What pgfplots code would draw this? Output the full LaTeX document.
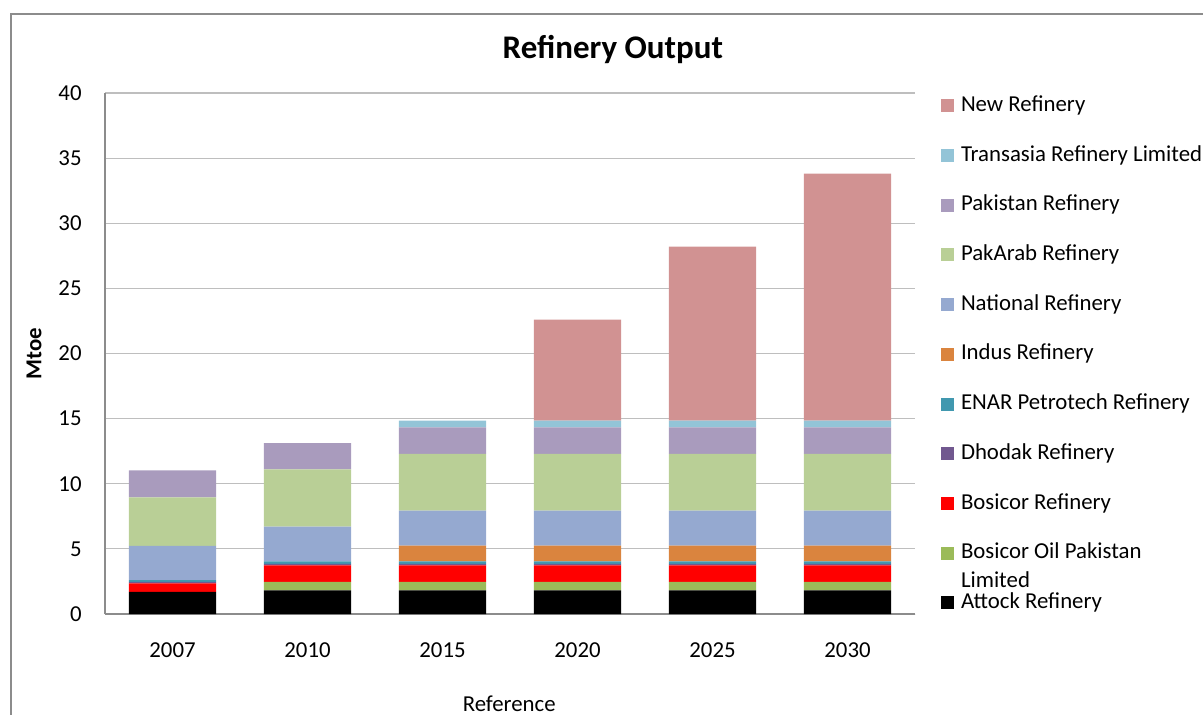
\documentclass[border=0pt]{standalone}
\usepackage{fontspec}
\setmainfont{Carlito}
\usepackage{pgfplots}
\pgfplotsset{compat=1.18}

\definecolor{cNew}{RGB}{209,146,146}
\definecolor{cTrans}{RGB}{147,196,215}
\definecolor{cPak}{RGB}{169,155,189}
\definecolor{cPakArab}{RGB}{185,207,150}
\definecolor{cNat}{RGB}{149,169,208}
\definecolor{cIndus}{RGB}{218,132,62}
\definecolor{cEnar}{RGB}{65,152,175}
\definecolor{cDhodak}{RGB}{113,88,143}
\definecolor{cBosicor}{RGB}{255,0,0}
\definecolor{cBosOil}{RGB}{155,187,89}
\definecolor{gridgray}{RGB}{190,190,190}
\definecolor{axisgray}{RGB}{140,140,140}

\newcommand{\tfont}{\fontsize{11.4pt}{13pt}\selectfont}

\begin{document}
\begin{tikzpicture}
% chart frame (Excel chart area)
\draw[axisgray, line width=0.8pt] (5.5pt,-370pt) -- (5.5pt,-7pt) -- (610pt,-7pt);

\begin{axis}[
  at={(52.5pt,-307pt)}, anchor=south west,
  scale only axis, width=405pt, height=260.5pt,
  ybar stacked, bar width=43.5pt,
  xmin=-0.5, xmax=5.5, ymin=0, ymax=40,
  xtick=data, xticklabels={2007,2010,2015,2020,2025,2030},
  ytick={0,5,...,40},
  major tick length=0pt,
  ymajorgrids, grid style={gridgray, line width=0.6pt},
  axis x line*=bottom, axis y line*=left,
  axis line style={axisgray, line width=0.6pt, -},
  /pgf/number format/assume math mode=true,
  tick label style={font=\tfont},
  yticklabel style={inner sep=0pt, xshift=-11.5pt},
  xticklabel style={inner sep=0pt, yshift=-14.25pt},
  title={Refinery Output},
  title style={at={(axis description cs:0.627,1.061)}, anchor=center, font=\fontsize{16.5pt}{19pt}\selectfont\bfseries},
  ylabel={Mtoe},
  ylabel style={at={(axis description cs:-0.0877,0.5)}, anchor=center, rotate=0, font=\tfont\bfseries},
  xlabel={Reference},
  xlabel style={at={(axis description cs:0.499,-0.172)}, anchor=center, font=\tfont},
  legend style={draw=none, fill=none, at={(axis description cs:1.0321,0.9954)}, anchor=north west,
    row sep=14.35pt, column sep=3.5pt, inner sep=0pt, outer sep=0pt,
    nodes={inner sep=0pt, text height=8pt, text depth=2.5pt, font=\tfont}},
  legend cell align=left,
  reverse legend,
  legend image code/.code={\fill[#1] (0pt,-3.25pt) rectangle (6.5pt,3.25pt);},
]
\addplot[fill=black, draw=none] coordinates {(0,1.69)(1,1.82)(2,1.82)(3,1.82)(4,1.82)(5,1.82)};
\addplot[fill=cBosOil, draw=none] coordinates {(0,0)(1,0.64)(2,0.64)(3,0.64)(4,0.64)(5,0.64)};
\addplot[fill=cBosicor, draw=none] coordinates {(0,0.67)(1,1.28)(2,1.28)(3,1.28)(4,1.28)(5,1.28)};
\addplot[fill=cDhodak, draw=none] coordinates {(0,0.1)(1,0.11)(2,0.11)(3,0.11)(4,0.11)(5,0.11)};
\addplot[fill=cEnar, draw=none] coordinates {(0,0.15)(1,0.2)(2,0.2)(3,0.2)(4,0.2)(5,0.2)};
\addplot[fill=cIndus, draw=none] coordinates {(0,0)(1,0)(2,1.2)(3,1.2)(4,1.2)(5,1.2)};
\addplot[fill=cNat, draw=none] coordinates {(0,2.63)(1,2.65)(2,2.68)(3,2.68)(4,2.68)(5,2.68)};
\addplot[fill=cPakArab, draw=none] coordinates {(0,3.72)(1,4.41)(2,4.36)(3,4.36)(4,4.36)(5,4.36)};
\addplot[fill=cPak, draw=none] coordinates {(0,2.07)(1,2.0)(2,2.04)(3,2.04)(4,2.04)(5,2.04)};
\addplot[fill=cTrans, draw=none] coordinates {(0,0)(1,0)(2,0.52)(3,0.52)(4,0.52)(5,0.52)};
\addplot[fill=cNew, draw=none] coordinates {(0,0)(1,0)(2,0)(3,7.75)(4,13.36)(5,18.96)};
\legend{Attock Refinery,
  \smash{\begin{tabular}[t]{@{}l@{}}Bosicor Oil Pakistan\\[1.5pt]Limited\end{tabular}},
  Bosicor Refinery, Dhodak Refinery, ENAR Petrotech Refinery, Indus Refinery,
  National Refinery, PakArab Refinery, Pakistan Refinery, Transasia Refinery Limited, New Refinery}
% category box below the plot area
\draw[axisgray, line width=0.6pt] (axis description cs:0,0) -- (axis description cs:0,-0.3);
\draw[axisgray, line width=0.6pt] (axis description cs:1,0) -- (axis description cs:1,-0.3);
\end{axis}
\pgfresetboundingbox
\useasboundingbox (0,0) rectangle (601.5pt,-357.5pt);
\end{tikzpicture}
\end{document}
